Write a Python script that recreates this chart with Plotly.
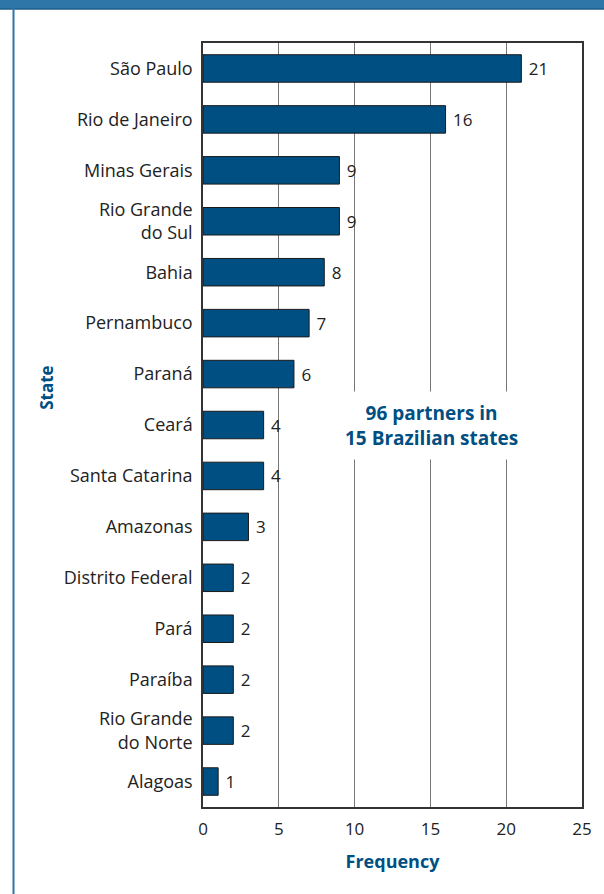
import plotly.graph_objects as go

states = ["São Paulo", "Rio de Janeiro", "Minas Gerais", "Rio Grande<br>do Sul", "Bahia",
          "Pernambuco", "Paraná", "Ceará", "Santa Catarina", "Amazonas",
          "Distrito Federal", "Pará", "Paraíba", "Rio Grande<br>do Norte", "Alagoas"]
freq = [21, 16, 9, 9, 8, 7, 6, 4, 4, 3, 2, 2, 2, 2, 1]
x_ticks = [0, 5, 10, 15, 20, 25]

BAR = "#004F82"
HEAD = "#2E75A8"
FONT = "Open Sans"

fig = go.Figure(go.Bar(
    x=freq, y=states, orientation="h",
    marker=dict(color=BAR, line=dict(color="#1a1a1a", width=1)),
    width=0.54,
    text=[" " + str(v) for v in freq], textposition="outside",
    textfont=dict(family=FONT, size=17, color="#222"),
    cliponaxis=False,
))

fig.update_layout(
    width=604, height=894,
    margin=dict(l=203, r=20, t=43, b=87),
    plot_bgcolor="white", paper_bgcolor="white",
    showlegend=False,
    font=dict(family=FONT, size=17, color="#222"),
    xaxis=dict(range=[0, 25], tickvals=x_ticks, ticktext=[str(t) for t in x_ticks],
               showgrid=True, gridcolor="#777", gridwidth=1,
               showline=True, linecolor="#333", linewidth=1.5, mirror=True,
               ticks="", zeroline=False, ticklabelstandoff=6,
               tickfont=dict(family=FONT, size=17, color="#222"),
               title=dict(text="<b>Frequency</b>", font=dict(family=FONT, size=18, color=BAR), standoff=16)),
    yaxis=dict(categoryorder="array", categoryarray=states[::-1],
               showline=True, linecolor="#333", linewidth=1.5, mirror=True,
               ticks="", showgrid=False, ticklabelstandoff=5,
               tickfont=dict(family=FONT, size=18, color="#222")),
    bargap=0.46,
)

fig.add_annotation(x=15.1, y="Ceará", xref="x", yref="y",
                   text="<b>96 partners in<br>15 Brazilian states</b>",
                   showarrow=False, bgcolor="white", borderpad=8,
                   font=dict(family=FONT, size=19, color=BAR))

# y-axis title placed to match reference position
fig.add_annotation(x=(45 - 203) / 381, y=(807 - 388) / 764, xref="paper", yref="paper",
                   xanchor="center", yanchor="middle",
                   text="<b>State</b>", textangle=-90, showarrow=False,
                   font=dict(family=FONT, size=17, color=BAR))

# header band and left border
fig.add_shape(type="rect", xref="paper", yref="paper", x0=-0.6, x1=1.1, y0=1.0445, y1=1.07,
              fillcolor=HEAD, line=dict(width=0), layer="above")
fig.add_shape(type="line", xref="paper", yref="paper", x0=-0.6, x1=1.1, y0=1.0445, y1=1.0445,
              line=dict(color="#1F5F8B", width=1.5))
fig.add_shape(type="line", xref="paper", yref="paper", x0=-0.5, x1=-0.5, y0=-0.12, y1=1.05,
              line=dict(color=HEAD, width=2))

fig.write_html("out.html")
